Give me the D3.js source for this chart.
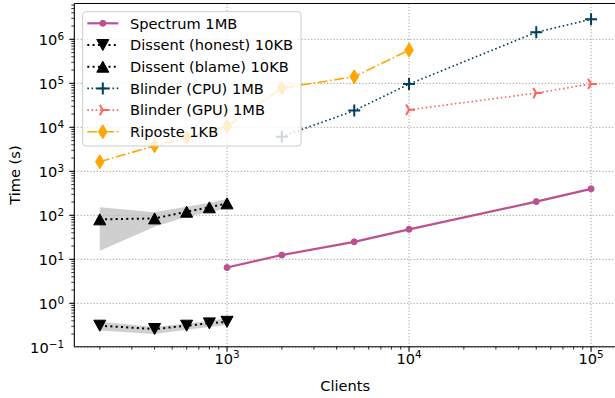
<!DOCTYPE html>
<html>
<head>
<meta charset="utf-8">
<script src="https://cdn.jsdelivr.net/npm/d3@7"></script>
<style>
body{margin:0;background:#fff;}
text{font-family:"DejaVu Sans",sans-serif;fill:#000;}
</style>
</head>
<body>
<div id="chart"></div>
<script>
// valeurs (temps en s)
const spectrumX = [1000, 2000, 5000, 10000, 50000, 100000];
const spectrumY = [6.5, 12.5, 25, 48, 205, 400];

const dissentX = [200, 400, 600, 800, 1000];
const honestY = [0.31, 0.26, 0.31, 0.35, 0.38];
const honestLo = [0.24, 0.20, 0.25, 0.29, 0.32];
const honestHi = [0.38, 0.29, 0.35, 0.40, 0.46];
const blameY = [81, 85, 121, 152, 187];
const blameLo = [15.7, 55, 93, 117, 144];
const blameHi = [152, 117, 157, 193, 235];

const blinderCpuX = [2000, 5000, 10000, 50000, 100000];
const blinderCpuY = [6100, 24000, 96000, 1450000, 2850000];

const blinderGpuX = [10000, 50000, 100000];
const blinderGpuY = [25000, 60000, 97000];

const riposteX = [200, 400, 600, 1000, 2000, 5000, 10000];
const riposteY = [1650, 3800, 5900, 10500, 78000, 141000, 570000];

const xExps = [3, 4, 5];
const yExps = [-1, 0, 1, 2, 3, 4, 5, 6];

const W = 615, H = 398;
const pLeft = 74.3, pRight = 616, pTop = 3.5, pBottom = 346.7;

const svg = d3.select("#chart").append("svg")
	.attr("width", W).attr("height", H);

const x = d3.scaleLog().domain([Math.pow(10, 2.161), Math.pow(10, 5.137)]).range([pLeft, pRight]);
const y = d3.scaleLog().domain([Math.pow(10, -0.986), Math.pow(10, 6.814)]).range([pBottom, pTop]);

// grille
const grid = svg.append("g");
xExps.forEach(e => {
	grid.append("line")
		.attr("x1", x(Math.pow(10, e))).attr("x2", x(Math.pow(10, e)))
		.attr("y1", pTop).attr("y2", pBottom)
		.attr("stroke", "#999").attr("stroke-width", 1).attr("stroke-dasharray", "1.2,2");
});
yExps.forEach(e => {
	grid.append("line")
		.attr("x1", pLeft).attr("x2", pRight)
		.attr("y1", y(Math.pow(10, e))).attr("y2", y(Math.pow(10, e)))
		.attr("stroke", "#999").attr("stroke-width", 1).attr("stroke-dasharray", "1.2,2");
});

// bandes grises
const band = (lo, hi) => d3.area()
	.x((d, i) => x(dissentX[i]))
	.y0((d, i) => y(lo[i]))
	.y1((d, i) => y(hi[i]));
svg.append("path").attr("d", band(honestLo, honestHi)(dissentX))
	.attr("fill", "#bbb").attr("fill-opacity", 0.7);
svg.append("path").attr("d", band(blameLo, blameHi)(dissentX))
	.attr("fill", "#bbb").attr("fill-opacity", 0.7);

function markerPath(type) {
	switch (type) {
		case "dot": return d3.symbol(d3.symbolCircle, Math.PI * 9)();
		case "tdown": return "M-6,-5.5L6,-5.5L0,5.5Z";
		case "tup": return "M-6,5.5L6,5.5L0,-5.5Z";
		case "plus": return "M-6,0H6M0,-6V6";
		case "tri": return "M0,0L6,0M0,0L-3,-5.2M0,0L-3,5.2";
		case "dia": return "M0,-7L4.3,0L0,7L-4.3,0Z";
	}
}

const series = [
	{name: "Spectrum 1MB", xs: spectrumX, ys: spectrumY, color: "#bc5090", dash: null, lw: 2.2, marker: "dot", filled: true},
	{name: "Dissent (honest) 10KB", xs: dissentX, ys: honestY, color: "#000", dash: "2,3.3", lw: 2, marker: "tdown", filled: true},
	{name: "Dissent (blame) 10KB", xs: dissentX, ys: blameY, color: "#000", dash: "2,3.3", lw: 2, marker: "tup", filled: true},
	{name: "Blinder (CPU) 1MB", xs: blinderCpuX, ys: blinderCpuY, color: "#003f5c", dash: "1.6,2.6", lw: 1.6, marker: "plus", filled: false},
	{name: "Blinder (GPU) 1MB", xs: blinderGpuX, ys: blinderGpuY, color: "#ff6361", dash: "1.6,2.6", lw: 1.6, marker: "tri", filled: false},
	{name: "Riposte 1KB", xs: riposteX, ys: riposteY, color: "#ffa600", dash: "10,2.6,1.6,2.6", lw: 1.6, marker: "dia", filled: true}
];

function drawMarker(g, s, cx, cy) {
	g.append("path")
		.attr("d", markerPath(s.marker))
		.attr("transform", "translate(" + cx + "," + cy + ")")
		.attr("fill", s.filled ? s.color : "none")
		.attr("stroke", s.color)
		.attr("stroke-width", s.filled ? 1 : 2);
}

const line = d3.line();
series.forEach(s => {
	let g = svg.append("g");
	let pts = s.xs.map((v, i) => [x(v), y(s.ys[i])]);
	g.append("path").attr("d", line(pts))
		.attr("fill", "none").attr("stroke", s.color)
		.attr("stroke-width", s.lw)
		.attr("stroke-dasharray", s.dash);
	pts.forEach(p => drawMarker(g, s, p[0], p[1]));
});

// axes
const ax = svg.append("g");
ax.append("line").attr("x1", pLeft).attr("x2", pRight).attr("y1", pBottom).attr("y2", pBottom).attr("stroke", "#000").attr("stroke-width", 1.1);
ax.append("line").attr("x1", pLeft).attr("x2", pRight).attr("y1", pTop).attr("y2", pTop).attr("stroke", "#000").attr("stroke-width", 1.1);
ax.append("line").attr("x1", pLeft).attr("x2", pLeft).attr("y1", pTop).attr("y2", pBottom).attr("stroke", "#000").attr("stroke-width", 1.1);

function supLabel(t, e) {
	t.append("tspan").text("10");
	t.append("tspan").attr("dy", -5.2).attr("font-size", 10.4)
		.text(e < 0 ? "\u2212" + (-e) : e);
}

// graduations x
for (let k = 2; k <= 5; k++) {
	for (let m = 1; m <= 9; m++) {
		let v = m * Math.pow(10, k);
		if (v < x.domain()[0] || v > x.domain()[1]) continue;
		ax.append("line").attr("x1", x(v)).attr("x2", x(v))
			.attr("y1", pBottom).attr("y2", pBottom + (m == 1 ? 5 : 3))
			.attr("stroke", "#000").attr("stroke-width", m == 1 ? 1.1 : 0.8);
	}
}
xExps.forEach(e => {
	let t = ax.append("text").attr("x", x(Math.pow(10, e))).attr("y", 363.5)
		.attr("text-anchor", "middle").attr("font-size", 14.6);
	supLabel(t, e);
});

// graduations y
for (let k = -1; k <= 6; k++) {
	for (let m = 1; m <= 9; m++) {
		let v = m * Math.pow(10, k);
		if (v < y.domain()[0] || v > y.domain()[1]) continue;
		ax.append("line").attr("y1", y(v)).attr("y2", y(v))
			.attr("x1", pLeft).attr("x2", pLeft - (m == 1 ? 5 : 3))
			.attr("stroke", "#000").attr("stroke-width", m == 1 ? 1.1 : 0.8);
	}
}
yExps.forEach(e => {
	let t = ax.append("text").attr("x", 64).attr("y", y(Math.pow(10, e)) + 6)
		.attr("text-anchor", "end").attr("font-size", 14.6);
	supLabel(t, e);
});

svg.append("text").attr("x", (pLeft + pRight) / 2).attr("y", 390.5)
	.attr("text-anchor", "middle").attr("font-size", 14.6).text("Clients");
svg.append("text").attr("transform", "translate(19.5," + (pTop + pBottom) / 2 + ") rotate(-90)")
	.attr("text-anchor", "middle").attr("font-size", 14.6).text("Time (s)");

// légende
const leg = svg.append("g");
leg.append("rect").attr("x", 82.7).attr("y", 11.7).attr("width", 218.3).attr("height", 134.3)
	.attr("rx", 3).attr("fill", "#fff").attr("fill-opacity", 0.8)
	.attr("stroke", "#ccc").attr("stroke-width", 1);
series.forEach((s, i) => {
	let cy = 23.3 + i * 21.7;
	leg.append("line").attr("x1", 87.3).attr("x2", 118.3).attr("y1", cy).attr("y2", cy)
		.attr("stroke", s.color).attr("stroke-width", s.lw).attr("stroke-dasharray", s.dash);
	drawMarker(leg, s, 102.8, cy);
	leg.append("text").attr("x", 130).attr("y", cy + 5.3).attr("font-size", 14.6).text(s.name);
});
</script>
</body>
</html>
